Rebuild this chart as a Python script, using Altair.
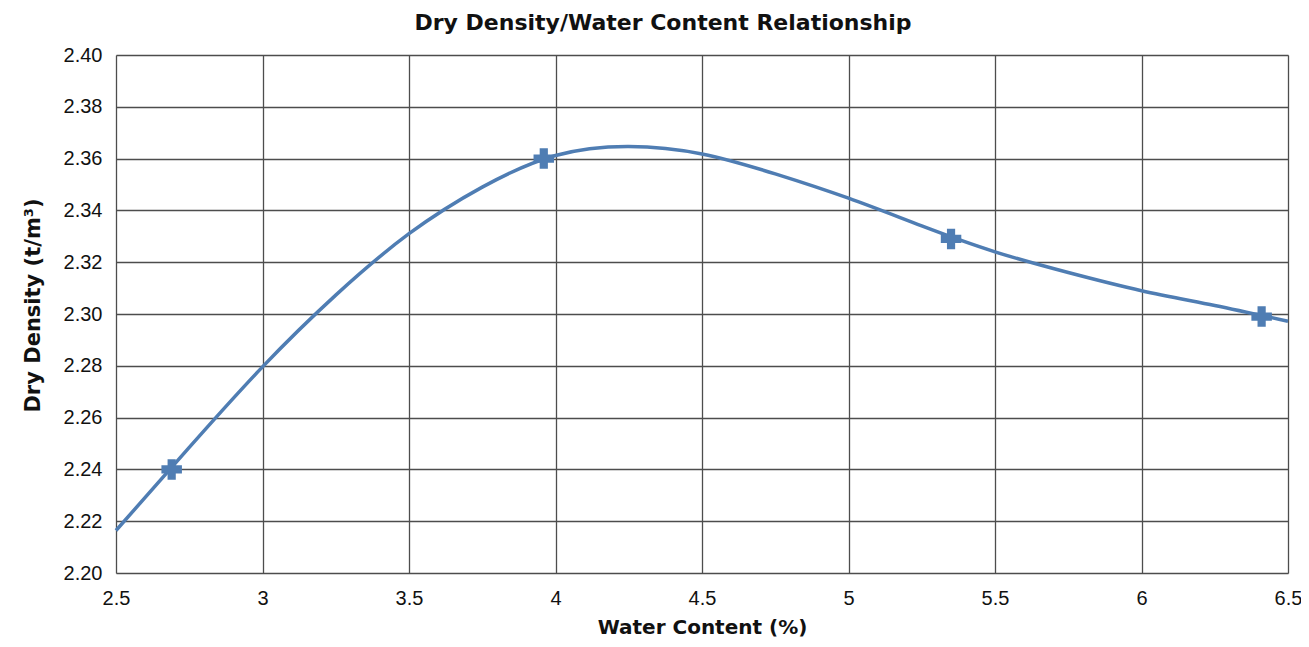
import altair as alt
import pandas as pd

# measured points
water_pts = [2.69, 3.96, 5.35, 6.41]
density_pts = [2.240, 2.360, 2.329, 2.299]

# fitted curve
curve_x = [2.5, 2.75, 3.0, 3.25, 3.5, 3.75, 4.0, 4.25, 4.5, 4.75, 5.0, 5.25, 5.5, 5.75, 6.0, 6.25, 6.5]
curve_y = [2.2164, 2.2485, 2.2796, 2.3073, 2.331, 2.349, 2.3612, 2.3647, 2.3618, 2.3541, 2.3447,
           2.3340, 2.3240, 2.3160, 2.3090, 2.3033, 2.2972]

x_ticks = [2.5, 3, 3.5, 4, 4.5, 5, 5.5, 6, 6.5]
y_ticks = [2.20, 2.22, 2.24, 2.26, 2.28, 2.30, 2.32, 2.34, 2.36, 2.38, 2.40]

pts = pd.DataFrame({"w": water_pts, "d": density_pts})
curve = pd.DataFrame({"w": curve_x, "d": curve_y})

FONT = "Liberation Sans"
TFONT = "DejaVu Sans"
BLUE = "#4f7db3"
GRID = "#4d4d4d"

xscale = alt.Scale(domain=[2.5, 6.5], nice=False, zero=False)
yscale = alt.Scale(domain=[2.20, 2.40], nice=False, zero=False)

xaxis = alt.Axis(values=x_ticks, format="~g", title="Water Content (%)", grid=True,
                 gridColor=GRID, gridWidth=1.3, tickSize=0, labelPadding=15, labelFlush=False,
                 labelFontSize=20, labelFont=FONT, labelColor="#111",
                 titleFont=TFONT, titleFontSize=20, titleFontWeight="bold", titleColor="#111",
                 titlePadding=9, domain=False)
yaxis = alt.Axis(values=y_ticks, format=".2f", title="Dry Density (t/m³)", grid=True,
                 gridColor=GRID, gridWidth=1.6, tickSize=0, labelPadding=14, labelFlush=False,
                 labelFontSize=20, labelFont=FONT, labelColor="#111",
                 titleFont=TFONT, titleFontSize=21, titleFontWeight="bold", titleColor="#111",
                 titlePadding=20, titleY=250, domain=False)

line = alt.Chart(curve).mark_line(color=BLUE, strokeWidth=3.5, interpolate="natural").encode(
    x=alt.X("w:Q", scale=xscale, axis=xaxis),
    y=alt.Y("d:Q", scale=yscale, axis=yaxis),
)
marks = alt.Chart(pts).mark_point(shape="cross", filled=True, size=420, color=BLUE, opacity=1).encode(
    x=alt.X("w:Q", scale=xscale),
    y=alt.Y("d:Q", scale=yscale),
)

chart = (line + marks).properties(
    width=1172, height=518,
    title=alt.TitleParams("Dry Density/Water Content Relationship", font=TFONT, fontSize=22,
                          fontWeight="bold", color="#111", anchor="middle", dx=-39, offset=10),
    autosize=alt.AutoSizeParams(type="none"),
    padding={"left": 108, "top": 47, "right": 13, "bottom": 66},
).configure_view(stroke=GRID, strokeWidth=2).configure(background="white")

chart.save("out.html", embed_options={"renderer": "svg", "actions": False})
